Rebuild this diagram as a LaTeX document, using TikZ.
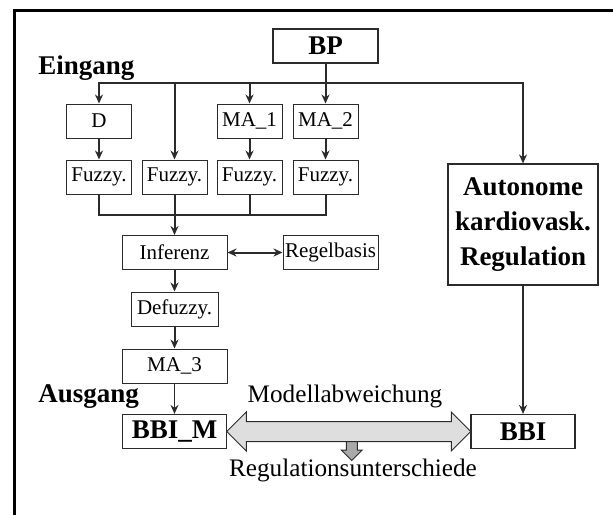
\documentclass[tikz,border=0pt]{standalone}
\usepackage{fontspec}
\setmainfont{Liberation Serif}
\usepackage{tikz}
\usetikzlibrary{
  arrows.meta,
  shapes.arrows,
  positioning,
  calc
}
\definecolor{fzLine}{HTML}{2B2B2B}
\definecolor{fzBand}{HTML}{DEDEDE}
\definecolor{fzDrop}{HTML}{A9A9A9}
\tikzset{
  fznode/.style={
    draw=fzLine, line width=0.5pt, minimum height=17pt, inner sep=1pt,
    font=\fontsize{10.5}{12}\selectfont, align=center
  },
  fzbox/.style={fznode, minimum width=32.5pt},
  widebox/.style={fznode, minimum width=52.5pt},
  boldbox/.style={fznode, line width=0.6pt, font=\fontsize{13.5}{17.5}\selectfont\bfseries},
  headtag/.style={font=\fontsize{13.5}{15}\selectfont\bfseries, inner sep=0pt, anchor=base west},
  note/.style={font=\fontsize{12.6}{14}\selectfont, inner sep=0pt},
  bus/.style={line width=1pt, fzLine},
  flow/.style={bus, -{Stealth[length=4.5pt, width=4pt]}},
  frameline/.style={line width=1.5pt, line cap=rect}
}

\begin{document}
\begin{tikzpicture}[x=0.5pt, y=-0.5pt]
  \useasboundingbox (0,0) rectangle (613,514);
  \draw[frameline] (14,514) -- (14,10) -- (613,10);

  % input stage
  \node[boldbox, minimum width=52.5pt] (bp) at (325.5,46) {BP};
  \node[headtag] (eingang) at (38,74) {Eingang};
  \coordinate (busy) at (0,83);
  \coordinate (colly) at (0,215);
  \node[fzbox] (d) at (99,121) {D};
  \node[fzbox] (ma1) at (249.5,121) {MA\_1};
  \node[fzbox] (ma2) at (325.5,121) {MA\_2};
  \node[fzbox] (fz1) at (99,177) {Fuzzy.};
  \node[fzbox] (fz2) at (174.5,177) {Fuzzy.};
  \node[fzbox] (fz3) at (249.5,177) {Fuzzy.};
  \node[fzbox] (fz4) at (325.5,177) {Fuzzy.};
  \node[boldbox, minimum width=75pt, minimum height=60.5pt] (auto) at (523,224.5)
    {Autonome\\kardiovask.\\Regulation};

  % fuzzy model
  \node[widebox] (inf) at (174.5,252.5) {Inferenz};
  \node[fznode, minimum width=47.5pt] (reg) at (330.5,252.5) {Regelbasis};
  \node[fznode, minimum width=43.5pt] (defz) at (174.5,309) {Defuzzy.};
  \node[widebox] (ma3) at (174.5,366) {MA\_3};

  % output stage
  \node[headtag] (ausgang) at (38,402) {Ausgang};
  \node[boldbox, minimum width=52pt] (bbim) at (174.5,431.5) {BBI\_M};
  \node[boldbox, minimum width=52pt] (bbi) at (523,431.5) {BBI};
  \node[double arrow, draw=fzLine, fill=fzBand, line width=0.5pt, inner sep=0pt,
    inner ysep=4.75pt, double arrow head extend=4.75pt, minimum height=122pt]
    (dev) at ($(bbim.east)!0.5!(bbi.west)$) {};
  \node[single arrow, draw=fzLine, fill=fzDrop, line width=0.5pt, inner sep=0pt,
    inner ysep=2.5pt, single arrow head extend=2.5pt, minimum height=9.5pt,
    rotate=-90, anchor=tail] (drop) at ($(dev.center)+(3,9.5)$) {};
  \node[note] (abw) at (345,396) {Modellabweichung};
  \node[note] (untersch) at (353,470) {Regulationsunterschiede};

  % connections
  \draw[flow] (ma1.north |- busy) -| (d.north);
  \draw[flow] (ma1.north |- busy) -| (auto.north);
  \draw[flow] (fz2.north |- busy) -- (fz2.north);
  \draw[flow] (ma1.north |- busy) -- (ma1.north);
  \draw[flow] (bp.south) -- (ma2.north);
  \foreach \a/\b in {d/fz1, ma1/fz3, ma2/fz4}
    \draw[flow] (\a) -- (\b);
  \draw[bus] (fz1.south) |- (fz4.south |- colly) -- (fz4.south);
  \draw[bus] (fz3.south) -- (fz3.south |- colly);
  \draw[flow] (fz2.south) -- (inf.north);
  \draw[bus, {Stealth[length=4.5pt, width=4pt]}-{Stealth[length=4.5pt, width=4pt]}] (inf) -- (reg);
  \draw[flow] (inf) -- (defz);
  \draw[flow] (defz) -- (ma3);
  \draw[flow, line width=0.8pt] (ma3) -- (bbim);
  \draw[flow] (auto) -- (bbi);
\end{tikzpicture}
\end{document}
